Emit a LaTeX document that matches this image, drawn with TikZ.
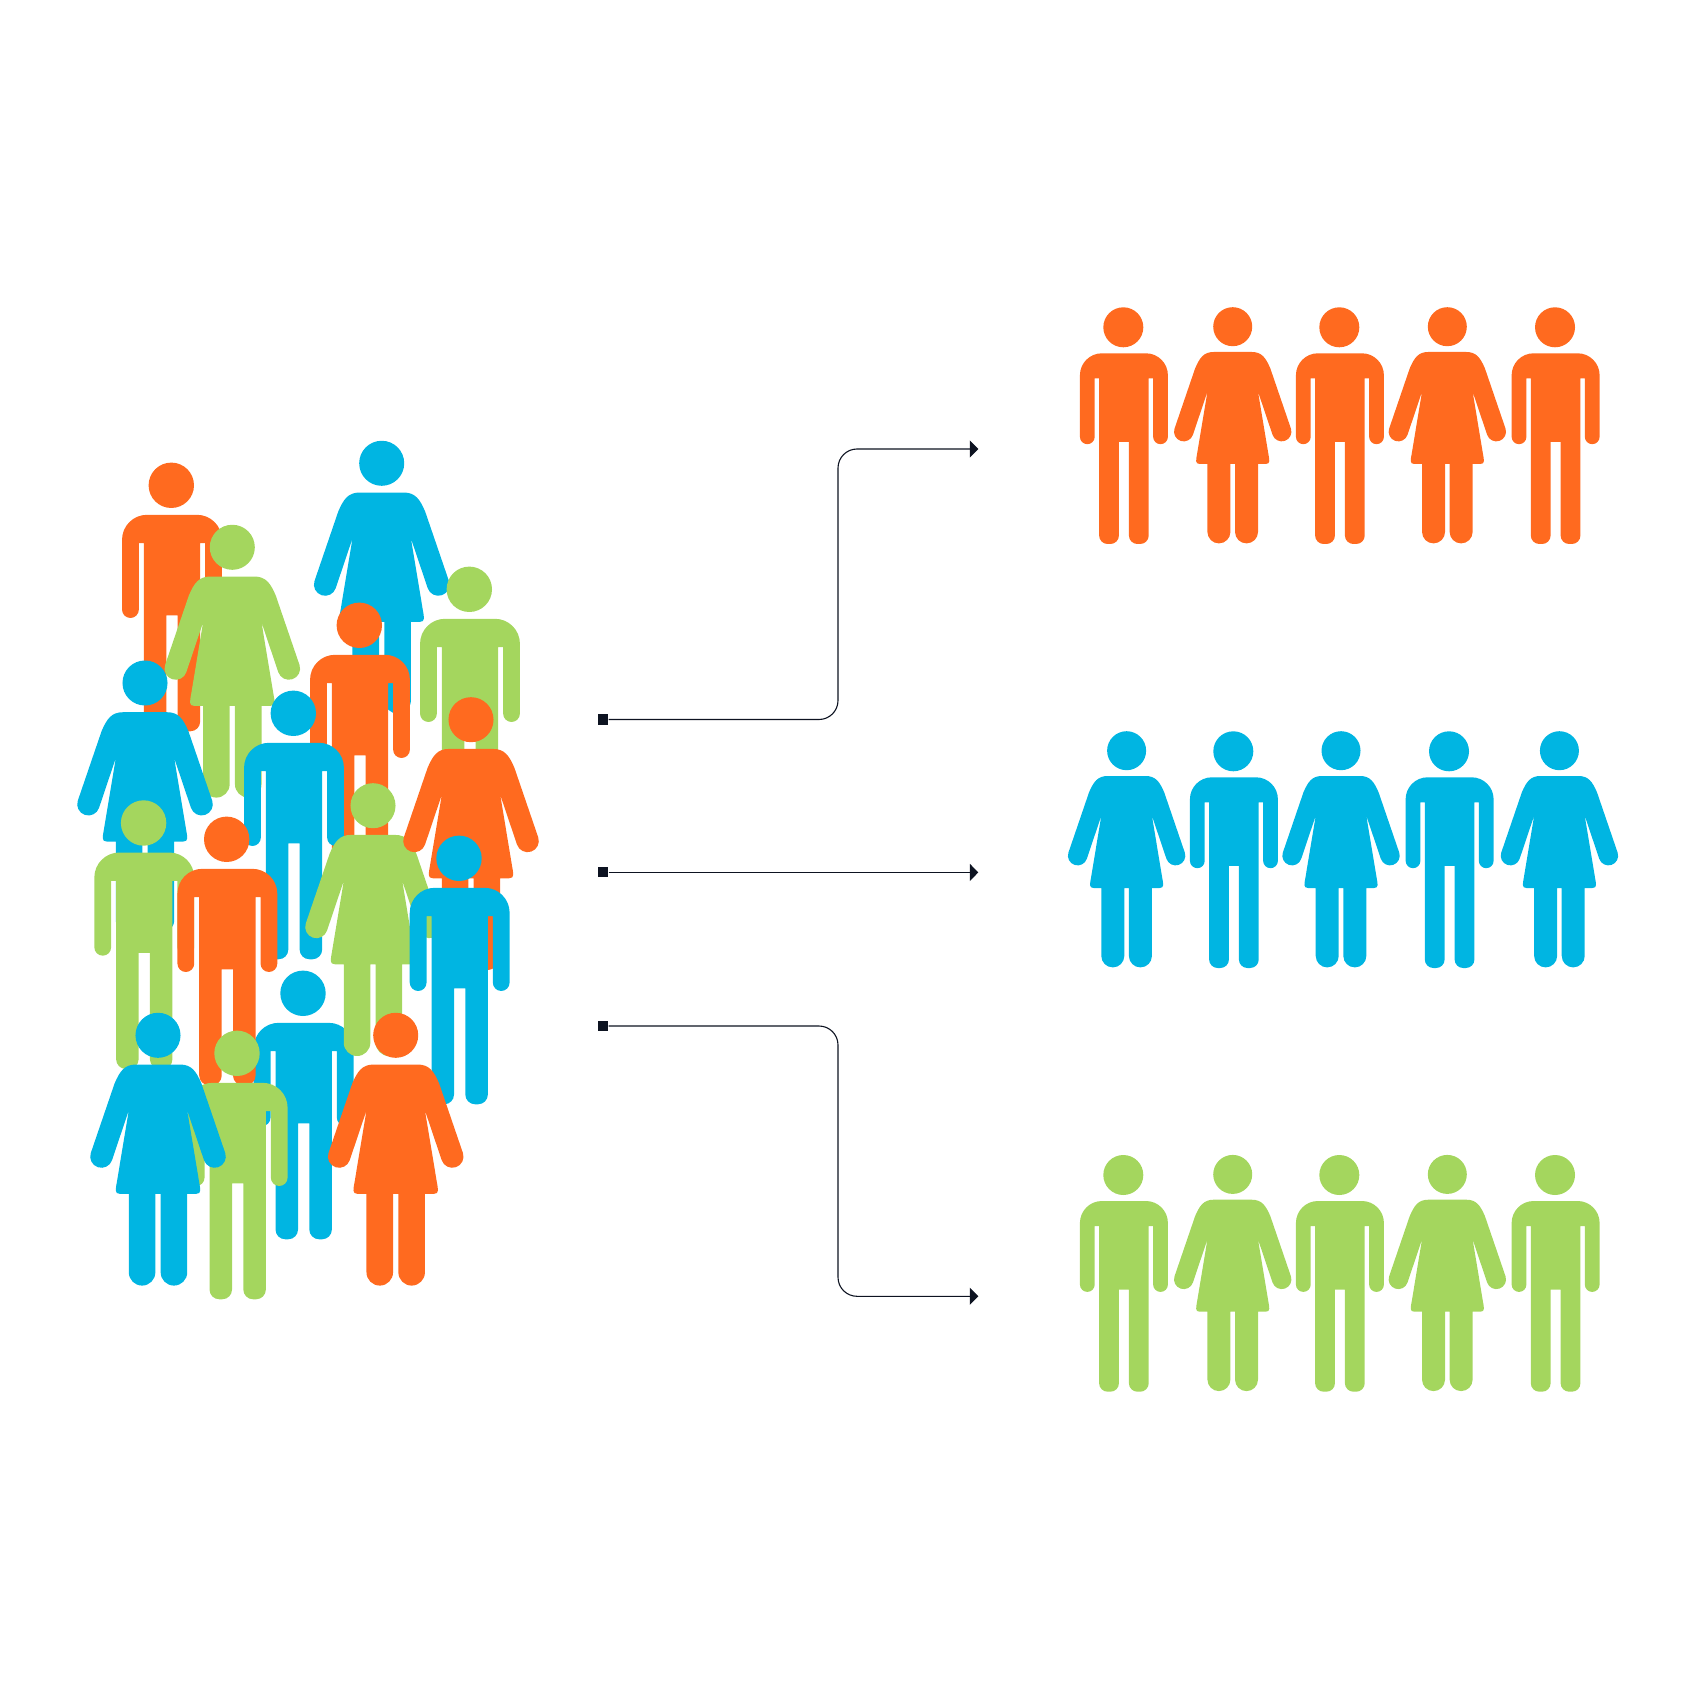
\documentclass[tikz,border=0pt]{standalone}
\usetikzlibrary{arrows.meta}
\definecolor{figorange}{HTML}{FF6A1F}
\definecolor{figblue}{HTML}{00B5E2}
\definecolor{figgreen}{HTML}{A4D65E}
\definecolor{linkdark}{HTML}{0D1321}
\tikzset{
  >={Triangle[length=0.085cm,width=0.17cm]},
  man/.pic={
    \fill[pic actions] (0,0) circle[radius=20];
    \begin{scope}[xshift=0.006cm]
      \fill[pic actions] (-22,26) -- (22,26) arc[start angle=270,end angle=360,radius=22]
        -- (44,109.5) arc[start angle=0,end angle=180,radius=7.4]
        -- (29.2,51) -- (24.8,51) -- (24.8,208.2) arc[start angle=0,end angle=90,radius=8.5]
        -- (13.5,216.7) arc[start angle=90,end angle=180,radius=8.5]
        -- (5,114.5) -- (-5,114.5) -- (-5,208.2) arc[start angle=0,end angle=90,radius=8.5]
        -- (-16.3,216.7) arc[start angle=90,end angle=180,radius=8.5]
        -- (-24.8,51) -- (-29.2,51) -- (-29.2,109.5) arc[start angle=0,end angle=180,radius=7.4]
        -- (-44,48) arc[start angle=180,end angle=270,radius=22] -- cycle;
    \end{scope}
  },
  woman/.pic={
    \fill[pic actions] (0,0) circle[radius=19.5];
    \fill[pic actions] (-19,25.3) -- (19,25.3) .. controls (29,25.3) and (33,31) .. (37.6,41.7)
      -- (58.2,101.9) arc[start angle=-18.6,end angle=161.4,radius=9.7]
      -- (25.3,65) -- (35.6,127) .. controls (36.6,133) and (38,137.3) .. (33,137.3)
      -- (25.3,137.3) -- (25.3,205.2) arc[start angle=0,end angle=180,radius=11.5]
      -- (2.3,137.3) -- (-2.3,137.3) -- (-2.3,205.2) arc[start angle=0,end angle=180,radius=11.5]
      -- (-25.3,137.3) -- (-33,137.3) .. controls (-38,137.3) and (-36.6,133) .. (-35.6,127)
      -- (-25.3,65) -- (-39.8,108.1) arc[start angle=18.6,end angle=198.6,radius=9.7]
      -- (-37.6,41.7) .. controls (-33,31) and (-29,25.3) .. (-19,25.3) -- cycle;
  },
  bigman/.style={scale=1.135},
  bigwoman/.style={scale=1.155},
  srcbox/.style={fill=linkdark,inner sep=0pt,minimum size=0.1cm},
  link/.style={->,linkdark,line width=0.011cm,rounded corners=0.19cm}
}
\begin{document}
\begin{tikzpicture}[x=0.01cm,y=-0.01cm]
    \useasboundingbox (0,0) rectangle (1700,1701);
    % crowd, back to front
    \pic[fill=figorange,bigman] at (171.3,485.3) {man};
    \pic[fill=figblue,bigwoman] at (381.7,463.3) {woman};
    \pic[fill=figgreen,bigwoman] at (232.3,547.3) {woman};
    \pic[fill=figgreen,bigman] at (469.3,589.3) {man};
    \pic[fill=figorange,bigman] at (359.3,625.3) {man};
    \pic[fill=figblue,bigwoman] at (145,683) {woman};
    \pic[fill=figblue,bigman] at (303,993.3) {man};
    \pic[fill=figblue,bigman] at (293.3,713.3) {man};
    \pic[fill=figgreen,bigwoman] at (373,805.7) {woman};
    \pic[fill=figorange,bigwoman] at (471,719.7) {woman};
    \pic[fill=figgreen,bigman] at (143.6,823) {man};
    \pic[fill=figorange,bigman] at (226.7,839.3) {man};
    \pic[fill=figblue,bigman] at (459,858.3) {man};
    \pic[fill=figgreen,bigman] at (237,1053.3) {man};
    \pic[fill=figblue,bigwoman] at (158,1035.3) {woman};
    \pic[fill=figorange,bigwoman] at (395.7,1035.3) {woman};
    % rows on the right
    \foreach \px in {1123.3,1339.3,1555} {
      \pic[fill=figorange] at (\px,327.3) {man};
      \pic[fill=figgreen] at (\px,1175) {man};
    }
    \foreach \px in {1232.7,1447.3} {
      \pic[fill=figorange] at (\px,326.7) {woman};
      \pic[fill=figgreen] at (\px,1174.4) {woman};
    }
    \foreach \px in {1126.6,1341,1559.4} {
      \pic[fill=figblue] at (\px,750.7) {woman};
    }
    \foreach \px in {1233.3,1449} {
      \pic[fill=figblue] at (\px,751.3) {man};
    }
    % connectors
    \node[srcbox] (src1) at (603,719.5) {};
    \node[srcbox] (src2) at (603,872.4) {};
    \node[srcbox] (src3) at (603,1026) {};
    \coordinate (bend1) at (838,584);
    \coordinate (bend3) at (838,1160);
    \coordinate (tip1) at (978.3,449);
    \coordinate (tip2) at (978.3,872.4);
    \coordinate (tip3) at (978.3,1296.3);
    \draw[link] (src1) -| (bend1) |- (tip1);
    \draw[link] (src2) -- (tip2);
    \draw[link] (src3) -| (bend3) |- (tip3);
\end{tikzpicture}
\end{document}
